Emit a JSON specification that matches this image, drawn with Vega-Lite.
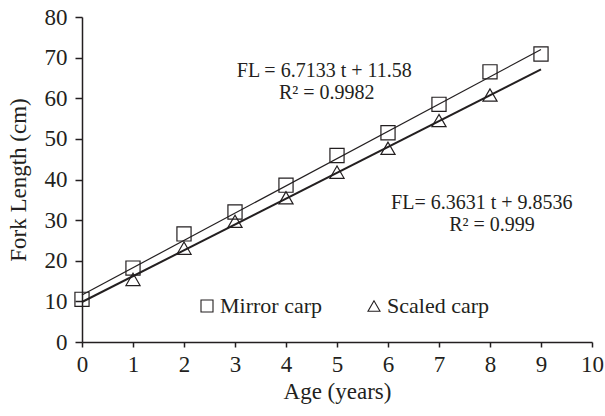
{
  "$schema": "https://vega.github.io/schema/vega-lite/v6.json",
  "width": 510,
  "height": 325,
  "autosize": {"type": "none"},
  "padding": {"left": 82, "top": 17, "right": 13, "bottom": 74},
  "background": "white",
  "config": {
    "view": {"stroke": null},
    "font": "Liberation Serif",
    "legend": {"labelFont": "Liberation Serif", "titleFont": "Liberation Serif"},
    "axis": {
      "grid": false,
      "labelFlush": false,
      "domainColor": "#231f20",
      "tickColor": "#231f20",
      "labelColor": "#231f20",
      "titleColor": "#231f20",
      "labelFont": "Liberation Serif",
      "titleFont": "Liberation Serif",
      "labelFontSize": 23,
      "titleFontSize": 23,
      "titleFontWeight": "normal",
      "domainWidth": 1.5,
      "tickWidth": 1.5
    }
  },
  "datasets": {
    "points": [
      {"age": 0, "fl": 10.5, "carp": "Mirror carp"},
      {"age": 1, "fl": 18.2, "carp": "Mirror carp"},
      {"age": 2, "fl": 26.6, "carp": "Mirror carp"},
      {"age": 3, "fl": 32.0, "carp": "Mirror carp"},
      {"age": 4, "fl": 38.6, "carp": "Mirror carp"},
      {"age": 5, "fl": 45.9, "carp": "Mirror carp"},
      {"age": 6, "fl": 51.5, "carp": "Mirror carp"},
      {"age": 7, "fl": 58.5, "carp": "Mirror carp"},
      {"age": 8, "fl": 66.5, "carp": "Mirror carp"},
      {"age": 9, "fl": 70.9, "carp": "Mirror carp"},
      {"age": 1, "fl": 15.4, "carp": "Scaled carp"},
      {"age": 2, "fl": 23.1, "carp": "Scaled carp"},
      {"age": 3, "fl": 29.7, "carp": "Scaled carp"},
      {"age": 4, "fl": 35.5, "carp": "Scaled carp"},
      {"age": 5, "fl": 41.8, "carp": "Scaled carp"},
      {"age": 6, "fl": 47.7, "carp": "Scaled carp"},
      {"age": 7, "fl": 54.5, "carp": "Scaled carp"},
      {"age": 8, "fl": 60.8, "carp": "Scaled carp"}
    ],
    "fits": [
      {"age": 0, "fl": 11.58, "fit": "mirror"},
      {"age": 9, "fl": 72.0, "fit": "mirror"},
      {"age": 0, "fl": 9.85, "fit": "scaled"},
      {"age": 9, "fl": 67.12, "fit": "scaled"}
    ],
    "notes": [
      {"age": 4.75, "fl": 66.8, "label": "FL = 6.7133 t + 11.58"},
      {"age": 4.8, "fl": 61.4, "label": "R² = 0.9982"},
      {"age": 7.84, "fl": 34.2, "label": "FL= 6.3631 t + 9.8536"},
      {"age": 8.04, "fl": 28.8, "label": "R² = 0.999"}
    ]
  },
  "layer": [
    {
      "data": {"name": "fits"},
      "mark": {"type": "line", "color": "#231f20"},
      "encoding": {
        "x": {"field": "age", "type": "quantitative", "scale": {"domain": [0, 10], "nice": false},
          "axis": {"title": "Age (years)", "values": [0,1,2,3,4,5,6,7,8,9,10], "tickSize": 5, "labelPadding": 6, "titlePadding": 4}},
        "y": {"field": "fl", "type": "quantitative", "scale": {"domain": [0, 80], "nice": false},
          "axis": {"title": "Fork Length (cm)", "values": [0,10,20,30,40,50,60,70,80], "tickSize": 7, "labelPadding": 8, "titlePadding": 14}},
        "detail": {"field": "fit"},
        "strokeWidth": {"field": "fit", "type": "nominal", "scale": {"domain": ["mirror", "scaled"], "range": [1.2, 2]}, "legend": null}
      }
    },
    {
      "data": {"name": "points"},
      "mark": {"type": "point", "filled": false, "stroke": "#231f20", "strokeWidth": 1.2, "size": 200, "opacity": 1},
      "encoding": {
        "x": {"field": "age", "type": "quantitative"},
        "y": {"field": "fl", "type": "quantitative"},
        "shape": {"field": "carp", "type": "nominal",
          "scale": {"domain": ["Mirror carp", "Scaled carp"], "range": ["square", "triangle-up"]},
          "legend": {"orient": "none", "legendX": 114, "legendY": 278, "direction": "horizontal", "title": null,
            "labelFont": "Liberation Serif", "labelFontSize": 22, "labelColor": "#231f20", "symbolSize": 144,
            "symbolStrokeColor": "#231f20", "symbolFillColor": "transparent", "symbolStrokeWidth": 1.1,
            "columnPadding": 40, "labelOffset": 2}}
      }
    },
    {
      "data": {"name": "notes"},
      "mark": {"type": "text", "font": "Liberation Serif", "fontSize": 20, "color": "#231f20", "align": "center", "baseline": "middle"},
      "encoding": {
        "x": {"field": "age", "type": "quantitative"},
        "y": {"field": "fl", "type": "quantitative"},
        "text": {"field": "label"}
      }
    }
  ]
}
